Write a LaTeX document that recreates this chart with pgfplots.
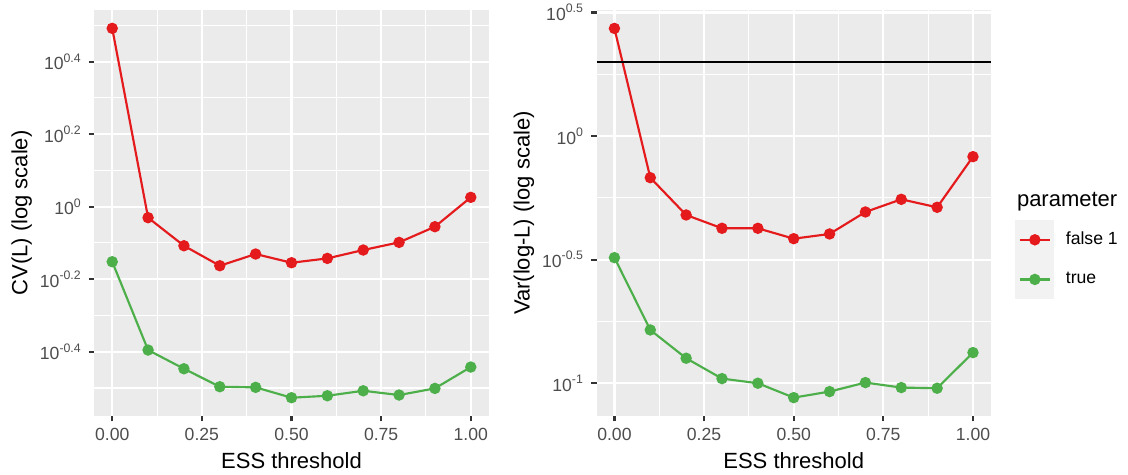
\documentclass[border=0pt]{standalone}
\usepackage{fontspec}
\setmainfont{Liberation Sans}
\usepackage{pgfplots}
\pgfplotsset{compat=1.18}
\usepackage{pgfplotstable}

\definecolor{setred}{HTML}{E41A1C}
\definecolor{setgreen}{HTML}{4DAF4A}
\definecolor{panelbg}{HTML}{EBEBEB}
\definecolor{keybg}{HTML}{F2F2F2}
\definecolor{ticktext}{HTML}{4D4D4D}
\definecolor{tickline}{HTML}{333333}

% power-of-ten tick label
\newcommand{\tp}[1]{10\textsuperscript{#1}}

% CV(L) and Var(log-L) against the ESS threshold, per parameter setting
\pgfplotstableread{
ess  cvfalse cvtrue varfalse vartrue
0.0  3.104   0.7051 2.726    0.3220
0.1  0.9326  0.4024 0.6783   0.1641
0.2  0.7805  0.3573 0.4791   0.1261
0.3  0.6874  0.3188 0.4232   0.1043
0.4  0.7404  0.3175 0.4232   0.0999
0.5  0.7006  0.2973 0.3842   0.08737
0.6  0.7202  0.3010 0.4014   0.09241
0.7  0.7595  0.3107 0.4927   0.1005
0.8  0.7974  0.3024 0.5544   0.09594
0.9  0.8807  0.3154 0.5146   0.09535
1.0  1.0612  0.3612 0.8249   0.1329
}\esstable

\pgfplotsset{
  ggpanel/.style={
    scale only axis, width=197.2pt, height=203pt,
    anchor=south west,
    xmin=-0.05, xmax=1.05,
    xtick={0,0.25,0.5,0.75,1},
    xticklabels={0.00,0.25,0.50,0.75,1.00},
    minor xtick={0.125,0.375,0.625,0.875},
    grid=both,
    major grid style={white, line width=1.07pt},
    minor grid style={white, line width=0.53pt},
    axis background/.style={fill=panelbg},
    axis line style={draw=none},
    tick align=outside, tick pos=left,
    major tick length=2.75pt, minor tick length=0pt,
    tick style={tickline, line width=1.07pt},
    tick label style={font=\fontsize{8.8}{10}\selectfont, text=ticktext},
    label style={font=\fontsize{11}{13}\selectfont, text=black},
    xlabel style={at={(axis description cs:0.5,-0.1288)}, anchor=base},
    ylabel style={at={(axis description cs:-0.184,0.5)}, anchor=center},
    xlabel={ESS threshold},
    every axis plot/.append style={line width=1.07pt, mark=*, mark size=2.3pt},
  },
}

\begin{document}
\begin{tikzpicture}
\useasboundingbox (0pt,0pt) rectangle (564pt,237.5pt);

% left panel: coefficient of variation of the likelihood
\begin{axis}[ymode=log, log basis y=10, ggpanel,
  at={(47.15pt,29.5pt)},
  ymin=0.2647, ymax=3.488,
  ytick={0.39811,0.63096,1,1.58489,2.51189},
  yticklabels={\tp{-0.4},\tp{-0.2},\tp{0},\tp{0.2},\tp{0.4}},
  minor ytick={0.31623,0.50119,0.79433,1.25893,1.99526,3.16228},
  ylabel={CV(L) (log scale)},
]
\addplot[setred, mark options={fill=setred, draw=setred}] table[x=ess, y=cvfalse] {\esstable};
\addplot[setgreen, mark options={fill=setgreen, draw=setgreen}] table[x=ess, y=cvtrue] {\esstable};
\end{axis}

% right panel: variance of the log-likelihood, with reference level 2
\begin{axis}[ymode=log, log basis y=10, ggpanel,
  at={(298.25pt,29.5pt)},
  ymin=0.07362, ymax=3.236,
  ytick={0.1,0.316228,1,3.16228},
  yticklabels={\tp{-1},\tp{-0.5},\tp{0},\tp{0.5}},
  minor ytick={0.177828,0.562341,1.77828},
  ylabel={Var(log-L) (log scale)},
  legend style={at={(1.0622,0.4828)}, anchor=north west,
    draw=none, fill=none, inner sep=0pt, outer sep=0pt,
    row sep=0pt, column sep=0pt,
    nodes={inner sep=0pt, inner xsep=5.8pt},
    font=\fontsize{8.8}{10}\selectfont},
  legend cell align=left,
  legend image code/.code={
    \fill[keybg] (0pt,-9.375pt) rectangle (18.35pt,9.375pt);
    \draw[mark repeat=2, mark phase=2, #1] plot coordinates {(1.65pt,0pt) (9.175pt,0pt) (16.7pt,0pt)};
  },
]
\addplot[setred, mark options={fill=setred, draw=setred}] table[x=ess, y=varfalse] {\esstable};
\addlegendentry{false 1}
\addplot[setgreen, mark options={fill=setgreen, draw=setgreen}] table[x=ess, y=vartrue] {\esstable};
\addlegendentry{true}
\addplot[black, line width=1.07pt, mark=none, forget plot] coordinates {(-0.05,2) (1.05,2)};
\end{axis}

\node[anchor=base west, inner sep=0pt, font=\fontsize{11}{13}\selectfont] at (508.3pt,134.2pt) {parameter};
\end{tikzpicture}
\end{document}
